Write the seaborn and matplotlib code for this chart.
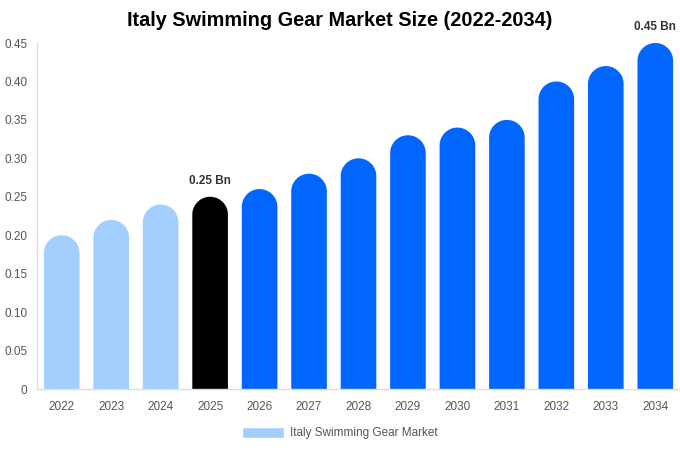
import numpy as np
import pandas as pd
import matplotlib
matplotlib.use("Agg")
import matplotlib.pyplot as plt
from matplotlib.patches import Patch, PathPatch
from matplotlib.path import Path
import seaborn as sns

years = ["2022", "2023", "2024", "2025", "2026", "2027", "2028",
         "2029", "2030", "2031", "2032", "2033", "2034"]
market_size = [0.20, 0.22, 0.24, 0.25, 0.26, 0.28, 0.30,
               0.33, 0.34, 0.35, 0.40, 0.42, 0.45]
period = ["past", "past", "past", "base", "fc", "fc", "fc",
          "fc", "fc", "fc", "fc", "fc", "fc"]
labelled = {"2025": "0.25 Bn", "2034": "0.45 Bn"}

colors = {"past": "#a3cfff", "base": "#000000", "fc": "#0066ff"}

df = pd.DataFrame({"year": years, "size": market_size, "period": period})

sns.set_style("white")
plt.rcParams["font.family"] = ["Liberation Sans", "DejaVu Sans"]

fig = plt.figure(figsize=(6.8, 4.5), dpi=100)
ax = fig.add_axes([37 / 680, 61 / 450, 643 / 680, 346 / 450])

bar_w = 0.72
sns.barplot(data=df, x="year", y="size", hue="period", palette=colors,
            dodge=False, width=bar_w, legend=False, ax=ax, saturation=1)

ax.set_ylim(0, 0.45)
ax.set_xlim(-0.5, len(years) - 0.5)

# swap each bar for one path with a round top (radius = half bar width on screen)
px_per_x = 643 / len(years)
px_per_y = 346 / 0.45
ry = (bar_w * px_per_x / 2) / px_per_y
for p in list(ax.patches):
    h = p.get_height()
    if h <= 0:
        continue
    x0, w = p.get_x(), p.get_width()
    cx = x0 + w / 2
    t = np.linspace(0, np.pi, 60)
    arc = np.column_stack([cx + (w / 2) * np.cos(t), (h - ry) + ry * np.sin(t)])
    verts = np.vstack([[x0 + w, 0], arc, [x0, 0], [x0 + w, 0]])
    codes = [Path.MOVETO] + [Path.LINETO] * (len(verts) - 2) + [Path.CLOSEPOLY]
    fc = p.get_facecolor()
    p.remove()
    ax.add_patch(PathPatch(Path(verts, codes), facecolor=fc, linewidth=0))

for i, (yr, v) in enumerate(zip(years, market_size)):
    if yr in labelled:
        ax.text(i, v + 0.013, labelled[yr], ha="center", va="bottom",
                fontsize=8.5, fontweight="bold", color="#333333")

ax.set_yticks(np.arange(0, 0.451, 0.05))
ax.set_yticklabels(["0"] + [f"{t:.2f}" for t in np.arange(0.05, 0.451, 0.05)])
ax.tick_params(axis="both", length=0, labelsize=8.5, colors="#555555")
ax.tick_params(axis="x", pad=9)
ax.tick_params(axis="y", pad=7)
ax.set_xlabel("")
ax.set_ylabel("")

for s in ["top", "right"]:
    ax.spines[s].set_visible(False)
for s in ["left", "bottom"]:
    ax.spines[s].set_color("#dddddd")
    ax.spines[s].set_linewidth(1)

fig.suptitle("Italy Swimming Gear Market Size (2022-2034)", fontsize=14.3,
             fontweight="bold", x=0.5, y=0.975, color="#000000")

handles = [Patch(facecolor=colors["past"], label="Italy Swimming Gear Market")]
fig.legend(handles=handles, loc="lower center", bbox_to_anchor=(0.5, 0.0),
           frameon=False, fontsize=8.5, labelcolor="#555555",
           handlelength=3.6, handleheight=1.0, handletextpad=0.5)

fig.savefig("out.png", dpi=100)
